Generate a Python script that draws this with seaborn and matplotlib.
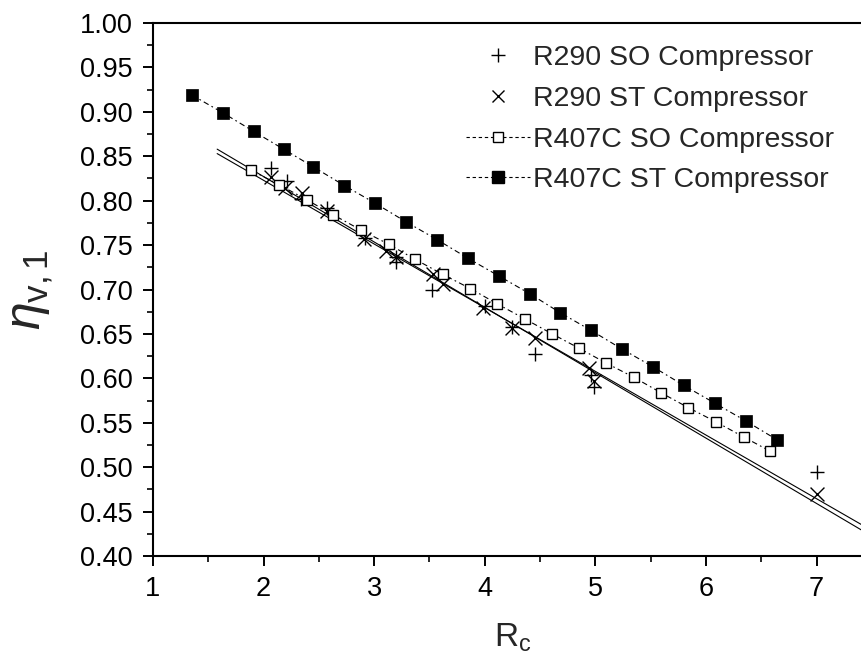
import matplotlib
matplotlib.use("Agg")
import matplotlib.pyplot as plt
from matplotlib.lines import Line2D
from matplotlib.ticker import MultipleLocator, FormatStrFormatter
import seaborn as sns

# ---------------- data ----------------
r290_so_x = [2.07, 2.21, 2.34, 2.57, 2.92, 3.20, 3.20, 3.52, 4.00, 4.25, 4.45, 4.96, 4.99, 7.00]
r290_so_y = [0.837, 0.822, 0.802, 0.792, 0.758, 0.737, 0.731, 0.700, 0.681, 0.658, 0.627, 0.604, 0.590, 0.495]

r290_st_x = [2.07, 2.19, 2.35, 2.57, 2.91, 3.11, 3.20, 3.53, 3.62, 3.98, 4.25, 4.45, 4.94, 4.99, 7.00]
r290_st_y = [0.827, 0.814, 0.809, 0.788, 0.757, 0.743, 0.737, 0.718, 0.706, 0.679, 0.657, 0.645, 0.612, 0.597, 0.470]

r407c_so_x = [1.89, 2.14, 2.39, 2.63, 2.88, 3.13, 3.37, 3.62, 3.87, 4.11,
              4.36, 4.61, 4.85, 5.10, 5.35, 5.59, 5.84, 6.09, 6.34, 6.58]
r407c_so_y = [0.834, 0.818, 0.801, 0.784, 0.767, 0.751, 0.734, 0.717, 0.701, 0.684,
              0.667, 0.650, 0.634, 0.617, 0.601, 0.584, 0.567, 0.551, 0.534, 0.518]

r407c_st_x = [1.35, 1.63, 1.91, 2.18, 2.45, 2.73, 3.01, 3.29, 3.57, 3.85,
              4.13, 4.41, 4.68, 4.96, 5.24, 5.52, 5.80, 6.08, 6.36, 6.64]
r407c_st_y = [0.919, 0.899, 0.878, 0.858, 0.838, 0.817, 0.797, 0.776, 0.756, 0.735,
              0.715, 0.695, 0.674, 0.654, 0.633, 0.613, 0.592, 0.572, 0.552, 0.531]

# linear fit lines (end points)
fit_x = [1.58, 7.5]
fit_so_y = [0.858, 0.4223]
fit_st_y = [0.853, 0.4286]

labels = ["R290 SO Compressor", "R290 ST Compressor",
          "R407C SO Compressor", "R407C ST Compressor"]

# ---------------- style ----------------
sns.set_style("ticks")
plt.rcParams["font.family"] = ["Liberation Sans", "DejaVu Sans"]
plt.rcParams["mathtext.fontset"] = "custom"
plt.rcParams["mathtext.rm"] = "Liberation Sans"
plt.rcParams["mathtext.it"] = "Liberation Sans:italic"

W, H = 862, 672
fig = plt.figure(figsize=(W / 100, H / 100), dpi=100)
ax_left, ax_bottom = 153 / W, (H - 556) / H
ax_w, ax_h = (6.5 * 110.6) / W, 533 / H
ax = fig.add_axes([ax_left, ax_bottom, ax_w, ax_h])

dash = (0, (5, 3, 1.5, 3))

sns.lineplot(x=fit_x, y=fit_so_y, ax=ax, color="black", lw=0.8, sort=False, estimator=None)
sns.lineplot(x=fit_x, y=fit_st_y, ax=ax, color="black", lw=0.8, sort=False, estimator=None)

sns.lineplot(x=r407c_so_x, y=r407c_so_y, ax=ax, color="black", lw=0.8, sort=False,
             estimator=None, marker="s", markersize=7.5, markerfacecolor="white",
             markeredgecolor="black", markeredgewidth=1.0, linestyle=dash)
sns.lineplot(x=r407c_st_x, y=r407c_st_y, ax=ax, color="black", lw=0.8, sort=False,
             estimator=None, marker="s", markersize=8, markerfacecolor="black",
             markeredgecolor="black", markeredgewidth=0.5, linestyle=dash)

sns.scatterplot(x=r290_so_x, y=r290_so_y, ax=ax, marker="+", s=110, color="black",
                linewidth=1.0)
sns.scatterplot(x=r290_st_x, y=r290_st_y, ax=ax, marker="x", s=100, color="black",
                linewidth=1.0)

ax.set_xlim(1, 7.5)
ax.set_ylim(0.40, 1.00)
ax.xaxis.set_major_locator(MultipleLocator(1))
ax.xaxis.set_minor_locator(MultipleLocator(0.5))
ax.yaxis.set_major_locator(MultipleLocator(0.05))
ax.yaxis.set_minor_locator(MultipleLocator(0.025))
ax.yaxis.set_major_formatter(FormatStrFormatter("%.2f"))

ax.tick_params(axis="both", which="major", direction="out", length=7.5, width=1.4,
               labelsize=19.5, pad=7, colors="black")
ax.tick_params(axis="both", which="minor", direction="out", length=4, width=1.4)
for sp in ["left", "bottom", "top"]:
    ax.spines[sp].set_linewidth(1.5)
    ax.spines[sp].set_color("black")
ax.spines["right"].set_visible(False)

ax.set_xlabel(r"R$_\mathrm{c}$", fontsize=24, labelpad=14)
ax.set_ylabel(r"$\eta_{\mathrm{v,1}}$", fontsize=36, labelpad=18)

handles = [
    Line2D([], [], ls="none", marker="+", ms=10, mew=1.0, color="black"),
    Line2D([], [], ls="none", marker="x", ms=9, mew=1.0, color="black"),
    Line2D([], [], color="black", lw=0.8, ls=(0, (3, 2.5)), marker="s", ms=7.5,
           mfc="white", mec="black", mew=1.0),
    Line2D([], [], color="black", lw=0.8, ls=(0, (3, 2.5)), marker="s", ms=8,
           mfc="black", mec="black"),
]
fig.legend(handles, labels, loc="upper left", bbox_to_anchor=(466 / W, 1 - 45 / H),
           frameon=False, fontsize=20.5, handlelength=2.25, handletextpad=0.12,
           labelspacing=0.52, borderpad=0, borderaxespad=0, numpoints=1)

fig.savefig("out.png", dpi=100)
